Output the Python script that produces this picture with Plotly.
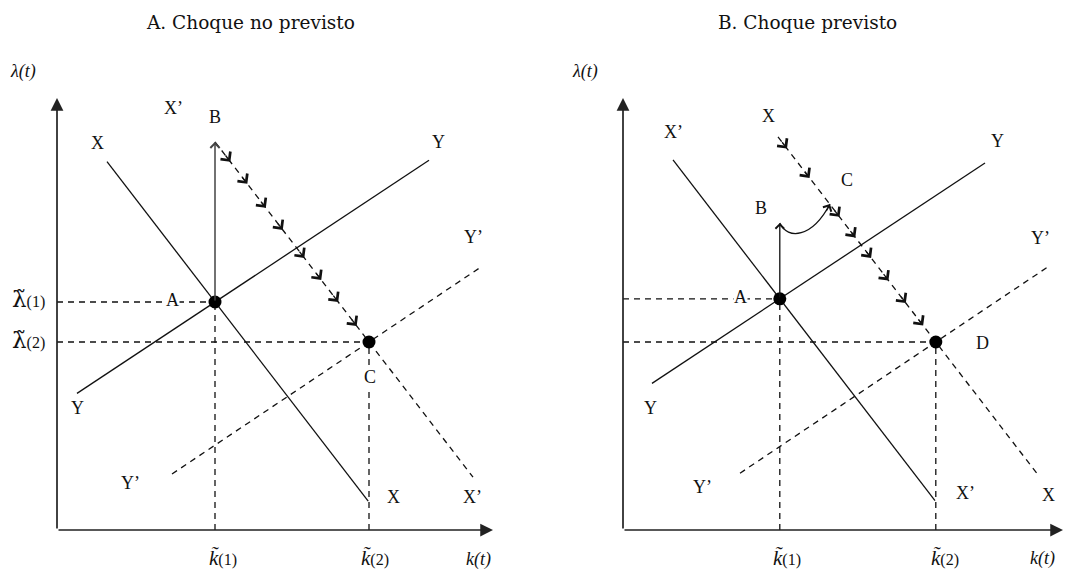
import plotly.graph_objects as go

# ---------------- data (schematic model values) ----------------
# Panel A: unanticipated shock ; Panel B: anticipated shock
k_eq_A = [3.95, 7.80]        # k~(1), k~(2)
lam_eq_A = [5.70, 4.70]      # lambda~(1), lambda~(2)
k_eq_B = [3.92, 7.82]
lam_eq_B = [5.78, 4.70]

slope_X = -1.30              # slope of X (dk=0) loci
slope_Y = 0.662              # slope of Y (dlambda=0) loci
slope_Yp = 0.67

# extents (k range) of each locus
X_old_A = [1.25, 7.78]       # solid X  (panel A)
Xp_new_A = [3.95, 10.40]     # dashed X' (panel A)
Y_old_A = [0.50, 9.30]
Yp_new_A = [2.875, 10.575]

Xp_old_B = [1.25, 7.80]      # solid X' (panel B)
X_new_B = [3.875, 10.375]    # dashed X (panel B)
Y_old_B = [0.725, 9.05]
Yp_new_B = [2.925, 10.60]

lam_jump_B = 7.675           # point B in panel B
C_point_B = [5.175, 8.15]    # point C in panel B

chev_frac_A = [0.10, 0.21, 0.33, 0.44, 0.58, 0.69, 0.80, 0.92]
chev_frac_B = [0.057, 0.20, 0.39, 0.49, 0.59, 0.70, 0.81, 0.92]

axis_len_k = [10.9, 11.0]
axis_len_lam = 10.8

tick_k = ["k̃", "k̃"]
tick_lam = ["λ̃", "λ̃"]
tick_lab = ["(1)", "(2)"]

# ---------------- geometry helpers ----------------
W, H = 1067, 570
UNIT = 40.0
ORIG_A = (57, 530)
ORIG_B = (623, 530)

def line_pts(k0, l0, slope, ks):
    return [ks[0], ks[1]], [l0 + slope * (ks[0] - k0), l0 + slope * (ks[1] - k0)]

def ppx(x, y):
    return x / W, 1 - y / H

fig = go.Figure()
BLACK = "#111111"
LW = 1.3
DASH = "6px,5px"

def add_line(xs, ys, panel, dash=None, color=BLACK, width=LW):
    fig.add_trace(go.Scatter(x=xs, y=ys, mode="lines",
                             line=dict(color=color, width=width, dash=dash or "solid"),
                             xaxis="x" if panel == 0 else "x2",
                             yaxis="y" if panel == 0 else "y2",
                             hoverinfo="skip", showlegend=False))

def arrow(panel, x, y, ax, ay, head=4, width=1.2, size=1.2, color=BLACK, axref_data=True):
    xr = "x" if panel == 0 else "x2"
    yr = "y" if panel == 0 else "y2"
    d = dict(x=x, y=y, ax=ax, ay=ay, xref=xr, yref=yr, text="", showarrow=True,
             arrowhead=head, arrowwidth=width, arrowsize=size, arrowcolor=color, standoff=0)
    if axref_data:
        d.update(axref=xr, ayref=yr)
    fig.add_annotation(**d)

CHEV_W, CHEV_S = 1.3, 1.85

# ---------------- panel A ----------------
kA1, kA2 = k_eq_A
lA1, lA2 = lam_eq_A
xs, ys = line_pts(kA1, lA1, slope_X, X_old_A); add_line(xs, ys, 0)
xs, ys = line_pts(kA1, lA1, slope_Y, Y_old_A); add_line(xs, ys, 0)
xs, ys = line_pts(kA2, lA2, slope_X, Xp_new_A); add_line(xs, ys, 0, DASH)
lamB_A = ys[0]
xs, ys = line_pts(kA2, lA2, slope_Yp, Yp_new_A); add_line(xs, ys, 0, DASH)
# reference dashed lines
add_line([0, kA1], [lA1, lA1], 0, DASH)
add_line([0, kA2], [lA2, lA2], 0, DASH)
add_line([kA1, kA1], [0, lA1], 0, DASH)
add_line([kA2, kA2], [0, lA2], 0, DASH)
# jump A -> B
arrow(0, kA1, lamB_A, kA1, lA1, head=4, width=1.5, size=1.2, color="#444444")
# chevrons B -> C
for f in chev_frac_A:
    kx = kA1 + f * (kA2 - kA1)
    ly = lamB_A + f * (lA2 - lamB_A)
    arrow(0, kx, ly, -6.0, -7.8, head=4, width=CHEV_W, size=CHEV_S, axref_data=False)
fig.add_trace(go.Scatter(x=[kA1, kA2], y=[lA1, lA2], mode="markers",
                         marker=dict(color="black", size=13), xaxis="x", yaxis="y",
                         hoverinfo="skip", showlegend=False))

# ---------------- panel B ----------------
kB1, kB2 = k_eq_B
lB1, lB2 = lam_eq_B
xs, ys = line_pts(kB1, lB1, slope_X, Xp_old_B); add_line(xs, ys, 1)
xs, ys = line_pts(kB1, lB1, slope_Y, Y_old_B); add_line(xs, ys, 1)
xs, ys = line_pts(kB2, lB2, slope_X, X_new_B); add_line(xs, ys, 1, DASH)
kXs, lXs = xs[0], ys[0]
xs, ys = line_pts(kB2, lB2, slope_Yp, Yp_new_B); add_line(xs, ys, 1, DASH)
add_line([0, kB1], [lB1, lB1], 1, DASH)
add_line([0, kB2], [lB2, lB2], 1, DASH)
add_line([kB1, kB1], [0, lB1], 1, DASH)
add_line([kB2, kB2], [0, lB2], 1, DASH)
arrow(1, kB1, lam_jump_B, kB1, lB1, head=4, width=1.3, size=1.3)
# curve B -> C
cx, cy = C_point_B
fig.add_shape(type="path", xref="x2", yref="y2",
              path=f"M {kB1},{lam_jump_B} C {kB1+0.2},{lam_jump_B-0.43} {cx-0.45},{cy-0.85} {cx},{cy}",
              line=dict(color=BLACK, width=1.3))
arrow(1, cx, cy, -4.5, 8.5, head=4, width=1.3, size=1.4, axref_data=False)
for f in chev_frac_B:
    kx = kXs + f * (kB2 - kXs)
    ly = lXs + f * (lB2 - lXs)
    arrow(1, kx, ly, -6.0, -7.8, head=4, width=CHEV_W, size=CHEV_S, axref_data=False)
fig.add_trace(go.Scatter(x=[kB1, kB2], y=[lB1, lB2], mode="markers",
                         marker=dict(color="black", size=13), xaxis="x2", yaxis="y2",
                         hoverinfo="skip", showlegend=False))

# ---------------- axes with arrowheads ----------------
for p in (0, 1):
    arrow(p, axis_len_k[p], 0, 0, 0, head=2, width=1.7, size=1.5, color="#222222")
    arrow(p, 0, axis_len_lam, 0, 0, head=2, width=1.7, size=1.5, color="#222222")

# ---------------- text ----------------
SERIF = "Liberation Serif"
def label(text, x, y, size=18, bg=None, italic=False, family=SERIF, anchor="center"):
    px_, py_ = ppx(x, y)
    t = f"<i>{text}</i>" if italic else text
    fig.add_annotation(x=px_, y=py_, xref="paper", yref="paper", text=t, showarrow=False,
                       font=dict(family=family, size=size, color="#111111"),
                       bgcolor=bg if bg else "rgba(0,0,0,0)", borderpad=0,
                       xanchor=anchor, yanchor="middle")

label("A. Choque no previsto", 250, 22, size=18.5, family="DejaVu Serif")
label("B. Choque previsto", 807, 22, size=18.5, family="DejaVu Serif")

# panel A labels
label("λ(t)", 23, 72, size=18, italic=True)
label("X’", 173, 108)
label("B", 215, 117)
label("X", 97, 143)
label("Y", 438, 142)
label("Y’", 473, 237)
label("A", 172, 300, bg="white")
label("Y", 77, 408)
label("C", 370, 377, bg="white")
label("Y’", 130, 483)
label("X", 393, 497)
label("X’", 472, 497)
for i, yy in enumerate([299, 340]):
    label(f"<span style='font-family:DejaVu Serif;font-size:23px'>{tick_lam[i]}</span>"
          f"<span style='font-size:16px'>{tick_lab[i]}</span>", 28, yy, size=16)
for i, xx in enumerate([223, 375]):
    label(f"<i>{tick_k[i]}</i><span style='font-size:16px'>{tick_lab[i]}</span>", xx, 558, size=21)
label("k(t)", 478, 559, size=18, italic=True)

# panel B labels
label("λ(t)", 585, 72, size=18, italic=True)
label("X", 768, 116)
label("X’", 673, 132)
label("B", 761, 208)
label("C", 847, 180)
label("Y", 997, 141)
label("Y’", 1040, 238)
label("A", 740, 297, bg="white")
label("D", 982, 343)
label("Y", 650, 408)
label("Y’", 702, 487)
label("X’", 965, 493)
label("X", 1048, 495)
for i, xx in enumerate([787, 945]):
    label(f"<i>{tick_k[i]}</i><span style='font-size:16px'>{tick_lab[i]}</span>", xx, 558, size=21)
label("k(t)", 1042, 558, size=18, italic=True)

# ---------------- layout ----------------
half = W / 2
ax_common = dict(visible=False, showgrid=False, zeroline=False, fixedrange=True)
fig.update_layout(
    width=W, height=H, autosize=False,
    margin=dict(l=0, r=0, t=0, b=0, pad=0),
    paper_bgcolor="white", plot_bgcolor="white",
    showlegend=False,
    xaxis=dict(domain=[0, 0.5], range=[(0 - ORIG_A[0]) / UNIT, (half - ORIG_A[0]) / UNIT], **ax_common),
    xaxis2=dict(domain=[0.5, 1], range=[(half - ORIG_B[0]) / UNIT, (W - ORIG_B[0]) / UNIT], **ax_common),
    yaxis=dict(domain=[0, 1], range=[(ORIG_A[1] - H) / UNIT, ORIG_A[1] / UNIT], **ax_common),
    yaxis2=dict(domain=[0, 1], anchor="x2", range=[(ORIG_B[1] - H) / UNIT, ORIG_B[1] / UNIT], **ax_common),
)
fig.write_html("out.html", config={"displayModeBar": False},
               post_script="document.body.style.margin='0';document.body.style.padding='0';")
